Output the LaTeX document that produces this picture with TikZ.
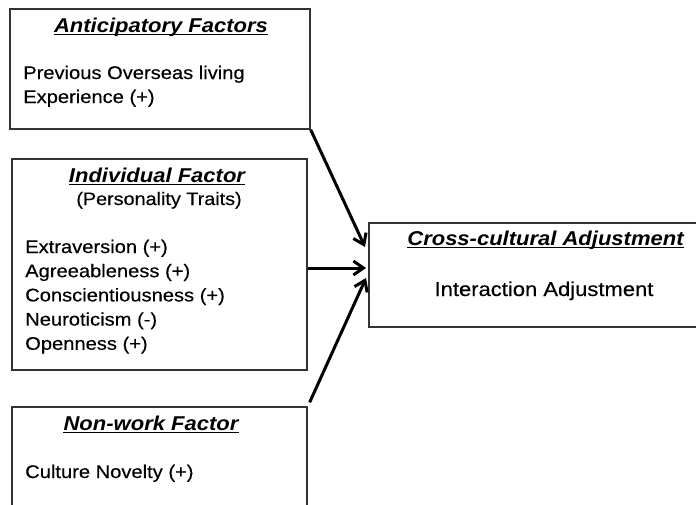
\documentclass[tikz,border=0pt]{standalone}
\usepackage{fontspec}
\setmainfont{Liberation Sans}
\newfontfamily\bodyfont{Liberation Sans}[FakeBold=0.3]
\usetikzlibrary{arrows.meta}
\begin{document}
\begin{tikzpicture}[x=1pt,y=-1pt,
  box/.style={draw=black!80, line width=1.3pt, inner sep=0pt},
  ttl/.style={font=\fontsize{20}{24}\selectfont\bfseries\itshape, anchor=base, xscale=1.1, inner sep=0pt},
  sub/.style={font=\bodyfont\fontsize{18}{23.5}\selectfont, anchor=base, xscale=1.1, inner sep=0pt},
  big/.style={font=\bodyfont\fontsize{20}{24}\selectfont, anchor=base, xscale=1.1, inner sep=0pt},
  txt/.style={font=\bodyfont\fontsize{18.3}{23.5}\selectfont, anchor=base west, xscale=1.1, inner sep=0pt},
  uline/.style={line width=0.9pt},
  link/.style={line width=3pt, -{Straight Barb[length=10pt,width=14pt]}}
]
\useasboundingbox (0,0) rectangle (696,504);

% frames
\node[box, minimum width=300pt, minimum height=120pt] (af) at (160,69) {};
\node[box, minimum width=295pt, minimum height=211pt] (if) at (159.5,264.5) {};
\node[box, minimum width=295pt, minimum height=108pt] (nf) at (159.5,461) {};
\node[box, minimum width=331pt, minimum height=104pt] (ca) at (534.5,275) {};

% anticipatory factors
\node[ttl] (afT) at (161,32) {Anticipatory Factors};
\node[txt] (af1) at (23,79) {Previous Overseas living};
\node[txt] (af2) at (23,103) {Experience (+)};

% individual factor
\node[ttl] (ifT) at (157,182) {Individual Factor};
\node[sub] (ifS) at (159,205) {(Personality Traits)};
\node[txt] (if1) at (25,253) {Extraversion (+)};
\node[txt] (if2) at (25,277.2) {Agreeableness (+)};
\node[txt] (if3) at (25,301.4) {Conscientiousness (+)};
\node[txt] (if4) at (25,325.6) {Neuroticism (-)};
\node[txt] (if5) at (25,349.8) {Openness (+)};

% non-work factor
\node[ttl] (nfT) at (151,430) {Non-work Factor};
\node[txt] (nf1) at (25,478) {Culture Novelty (+)};

% cross-cultural adjustment
\node[ttl] (caT) at (545.5,245) {Cross-cultural Adjustment};
\node[big] (ca1) at (544,296) {Interaction Adjustment};

% title underlines
\foreach \t in {afT,ifT,nfT,caT}
  \draw[uline] ([yshift=-2pt]\t.base west) -- ([yshift=-2pt]\t.base east);

% arrow tips in front of the outcome box
\coordinate (p1) at (365,247);
\coordinate (p2) at (366,268);
\coordinate (p3) at (366,278);

\draw[link] (af.south east) -- (p1);
\draw[link] (if.east |- p2) -- (p2);
\draw[link] ([xshift=2pt,yshift=4pt]nf.north east) -- (p3);
\end{tikzpicture}
\end{document}
